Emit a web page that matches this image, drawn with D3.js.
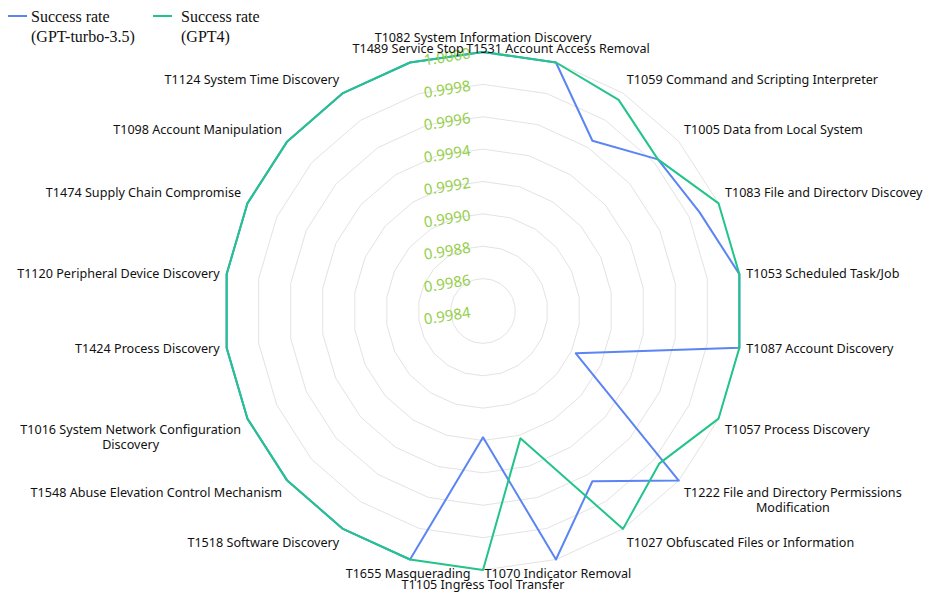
<!DOCTYPE html>
<html><head><meta charset="utf-8">
<script src="https://cdn.jsdelivr.net/npm/d3@7"></script>
<style>body{margin:0;background:#fff}svg{display:block}</style>
</head><body><svg id="c" width="925" height="597"></svg>
<script>
const categories = [
 "T1082 System Information Discovery","T1531 Account Access Removal","T1059 Command and Scripting Interpreter",
 "T1005 Data from Local System","T1083 File and Directorv Discovey","T1053 Scheduled Task/Job",
 "T1087 Account Discovery","T1057 Process Discovery","T1222 File and Directory Permissions\nModification",
 "T1027 Obfuscated Files or Information","T1070 Indicator Removal","T1105 Ingress Tool Transfer",
 "T1655 Masquerading","T1518 Software Discovery","T1548 Abuse Elevation Control Mechanism",
 "T1016 System Network Configuration\nDiscovery","T1424 Process Discovery","T1120 Peripheral Device Discovery",
 "T1474 Supply Chain Compromise","T1098 Account Manipulation","T1124 System Time Discovery","T1489 Service Stop"];
const gpt35 = [1,1,0.99965,0.99983,0.99987,1,1,0.99903,1,0.99965,1,0.99918,1,1,1,1,1,1,1,1,1,1];
const gpt4  = [1,1,0.99995,0.99983,1,1,1,1,0.99984,1,0.99922,1,1,1,1,1,1,1,1,1,1,1];
const tickValues = [0.9984,0.9986,0.9988,0.9990,0.9992,0.9994,0.9996,0.9998,1.0000];
const seriesNames = [["Success rate","(GPT-turbo-3.5)"],["Success rate","(GPT4)"]];
const colors = ["#5b84f4","#23c489"];

const svg = d3.select("#c");
const cx = 483, cy = 311, R = 259;
const n = categories.length;
const r = d3.scaleLinear().domain([0.9984, 1.0]).range([0, R]);
const ang = d3.scaleLinear().domain([0, n]).range([0, 2*Math.PI]);
const pt = (i, rr) => [cx + rr*Math.sin(ang(i)), cy - rr*Math.cos(ang(i))];
const FONT = "'Noto Sans', sans-serif", FS = 12.6;

const g = svg.append("g");
tickValues.slice(1).forEach(v => {
  const pts = d3.range(n).map(i => pt(i, r(v)));
  g.append("path").attr("d", d3.line().curve(d3.curveLinearClosed)(pts))
   .attr("fill","none").attr("stroke","#e3e3e3").attr("stroke-width",1);
});

[gpt35, gpt4].forEach((s, k) => {
  const pts = s.map((v,i) => pt(i, r(v)));
  g.append("path").attr("d", d3.line().curve(d3.curveLinearClosed)(pts))
   .attr("fill","none").attr("stroke",colors[k]).attr("stroke-width",2).attr("stroke-linejoin","round");
});

tickValues.forEach(v => {
  const x = 447, y = cy - r(v) + 4;
  g.append("text").attr("x",x).attr("y",y).attr("text-anchor","middle").attr("dominant-baseline","central")
   .attr("transform",`rotate(-9,${x},${y})`)
   .attr("font-family",FONT).attr("font-size",15).attr("fill","#95cf4c")
   .text(v.toFixed(4));
});

const LR = R + 7;
categories.forEach((c, i) => {
  const a = ang(i), s = Math.sin(a), co = Math.cos(a);
  const [x, y] = pt(i, LR);
  const lines = c.split("\n");
  const lh = 15;
  const anchor = Math.abs(s) < 0.3 ? "middle" : (s > 0 ? "start" : "end");
  const t = g.append("text").attr("font-family",FONT).attr("font-size",FS).attr("fill","#111");
  let top;
  const h = lines.length*lh;
  if (co > 0.2) top = y - h; else if (co < -0.2) top = y; else top = y - h/2;
  if (lines.length > 1) {
    t.attr("text-anchor","middle");
    const tmp = g.append("text").attr("font-family",FONT).attr("font-size",FS).text(lines[0]);
    const w = d3.max(lines, l => { tmp.text(l); return tmp.node().getComputedTextLength(); });
    tmp.remove();
    const mx = anchor === "start" ? x + w/2 : anchor === "end" ? x - w/2 : x;
    lines.forEach((l, j) => t.append("tspan").attr("x", mx).attr("y", top + lh*j + lh/2).attr("dominant-baseline","central").text(l));
  } else {
    t.attr("text-anchor", anchor);
    t.append("tspan").attr("x", x).attr("y", top + lh/2).attr("dominant-baseline","central").text(lines[0]);
  }
});

const lx = [8, 153];
seriesNames.forEach((nm, k) => {
  svg.append("line").attr("x1",lx[k]).attr("x2",lx[k]+19).attr("y1",16).attr("y2",16)
     .attr("stroke",colors[k]).attr("stroke-width",2);
  const t = svg.append("text").attr("font-family","'Liberation Serif', serif").attr("font-size",16).attr("fill","#111");
  nm.forEach((l, j) => t.append("tspan").attr("x", lx[k]+ (k===0?23:28)).attr("y", 16 + 20*j).attr("dominant-baseline","central").text(l));
});
</script></body></html>
